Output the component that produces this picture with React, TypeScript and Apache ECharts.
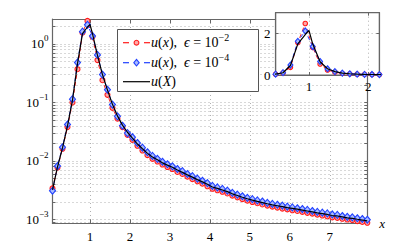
import React, { useEffect, useRef } from 'react';
import * as echarts from 'echarts';

// sample positions of the markers
const xGrid = [
  0.0625, 0.1875, 0.3125, 0.4375, 0.5625, 0.6875, 0.8125, 0.9375,
  1.0625, 1.1875, 1.3125, 1.4375, 1.5625, 1.6875, 1.8125, 1.9375,
  2.0625, 2.1875, 2.3125, 2.4375, 2.5625, 2.6875, 2.8125, 2.9375,
  3.0625, 3.1875, 3.3125, 3.4375, 3.5625, 3.6875, 3.8125, 3.9375,
  4.0625, 4.1875, 4.3125, 4.4375, 4.5625, 4.6875, 4.8125, 4.9375,
  5.0625, 5.1875, 5.3125, 5.4375, 5.5625, 5.6875, 5.8125, 5.9375,
  6.0625, 6.1875, 6.3125, 6.4375, 6.5625, 6.6875, 6.8125, 6.9375,
  7.0625, 7.1875, 7.3125, 7.4375, 7.5625, 7.6875, 7.8125, 7.9375,
];

// u(x), eps = 1e-2  (red circles)
const uEps2 = [
  0.0034, 0.0077, 0.0162, 0.038, 0.10, 0.37, 1.56, 2.48,
  1.33, 0.53, 0.24, 0.135, 0.081, 0.053, 0.038, 0.028,
  0.0230, 0.0182, 0.0151, 0.0126, 0.0109, 0.0098, 0.0087, 0.0079,
  0.0073, 0.0065, 0.0060, 0.0054, 0.0049, 0.0045, 0.0041, 0.0037,
  0.00335, 0.00316, 0.00298, 0.00279, 0.00256, 0.00239, 0.00223, 0.0021,
  0.00199, 0.0019, 0.00181, 0.00173, 0.00166, 0.0016, 0.00154, 0.00149,
  0.00144, 0.0014, 0.00135, 0.0013, 0.00126, 0.00121, 0.00117, 0.00113,
  0.00109, 0.00107, 0.00103, 0.001, 0.00098, 0.00094, 0.00091, 0.00088,
];

// u(x), eps = 1e-4  (blue diamonds)
const uEps4 = [
  0.0031, 0.0082, 0.0172, 0.042, 0.114, 0.48, 1.62, 2.12,
  1.37, 0.65, 0.30, 0.165, 0.092, 0.058, 0.040, 0.030,
  0.0255, 0.0203, 0.0169, 0.0141, 0.0122, 0.0109, 0.0097, 0.0088,
  0.0081, 0.0073, 0.0067, 0.0060, 0.0055, 0.0050, 0.0046, 0.0042,
  0.00375, 0.00354, 0.00333, 0.00312, 0.00286, 0.00267, 0.0025, 0.00235,
  0.00223, 0.00212, 0.00203, 0.00193, 0.00185, 0.00179, 0.00173, 0.00166,
  0.00161, 0.00156, 0.00151, 0.00146, 0.0014, 0.00135, 0.00131, 0.00127,
  0.00122, 0.0012, 0.00115, 0.00111, 0.00109, 0.00105, 0.00102, 0.00099,
];

// u(X)  (black solid line)
const uLimit = [
  0.0032, 0.0079, 0.0167, 0.040, 0.11, 0.46, 1.5, 1.95,
  1.5, 0.64, 0.30, 0.163, 0.093, 0.059, 0.041, 0.031,
  0.0245, 0.0195, 0.0162, 0.0135, 0.0117, 0.0105, 0.0093, 0.0085,
  0.0078, 0.0070, 0.0064, 0.0058, 0.0053, 0.0048, 0.0044, 0.0040,
  0.0036, 0.0034, 0.0032, 0.0030, 0.00275, 0.00257, 0.0024, 0.00226,
  0.00214, 0.00204, 0.00195, 0.00186, 0.00178, 0.00172, 0.00166, 0.0016,
  0.00155, 0.0015, 0.00145, 0.0014, 0.00135, 0.0013, 0.00126, 0.00122,
  0.00117, 0.00115, 0.00111, 0.00107, 0.00105, 0.00101, 0.00098, 0.00095,
];
const limitPeakX = 1.0;
const limitPeakU = 2.15;

const xTickValues = [1, 2, 3, 4, 5, 6, 7];
const yLabelValues = [0.001, 0.01, 0.1, 1];
const yTickValues = [
  0.0009,
  0.001, 0.002, 0.003, 0.004, 0.005, 0.006, 0.007, 0.008, 0.009,
  0.01, 0.02, 0.03, 0.04, 0.05, 0.06, 0.07, 0.08, 0.09,
  0.1, 0.2, 0.3, 0.4, 0.5, 0.6, 0.7, 0.8, 0.9,
  1, 2,
];
const insetXTicks = [1, 2];
const insetYTicks = [0, 2];

const legendExponents = ['−2', '−4'];

const SERIF = '"Liberation Serif", "DejaVu Serif", "Times New Roman", serif';
const RED = '#ff1a1a';
const BLUE = '#2040ff';
const AX = '#666666';
const GRID = '#b0b0b0';

const pair = (ys: number[]) => xGrid.map((x, i) => [x, ys[i]]);

export default function App() {
  const ref = useRef<HTMLDivElement>(null);

  useEffect(() => {
    if (!ref.current) return;
    const chart = echarts.init(ref.current, null, { renderer: 'svg' });

    const limitData = [
      ...pair(uLimit).filter((p) => p[0] < limitPeakX),
      [limitPeakX, limitPeakU],
      ...pair(uLimit).filter((p) => p[0] > limitPeakX),
    ];

    const supRich = {
      b: { fontFamily: SERIF, fontSize: 13, lineHeight: 20, color: '#000' },
      s: { fontFamily: SERIF, fontSize: 9, lineHeight: 10, verticalAlign: 'top', color: '#000' },
    };

    const dotted = { color: GRID, type: [1, 3], width: 1 };

    const mkSeries = (xi: number, yi: number, small: boolean, z: number) => [
      {
        type: 'line', name: 'u(x), eps=1e-2', xAxisIndex: xi, yAxisIndex: yi,
        data: pair(uEps2), symbol: 'circle', symbolSize: small ? 4.5 : 5,
        lineStyle: { color: RED, width: 1, type: [4, 3] },
        itemStyle: { color: '#ffa8a8', borderColor: RED, borderWidth: 1.1 },
        z, silent: true,
      },
      {
        type: 'line', name: 'u(x), eps=1e-4', xAxisIndex: xi, yAxisIndex: yi,
        data: pair(uEps4), symbol: 'diamond', symbolSize: small ? [5, 6] : [6, 7],
        lineStyle: { color: BLUE, width: 1, type: [4, 3] },
        itemStyle: { color: '#a8baff', borderColor: BLUE, borderWidth: 1.1 },
        z: z + 1, silent: true,
      },
      {
        type: 'line', name: 'u(X)', xAxisIndex: xi, yAxisIndex: yi,
        data: limitData, symbol: 'none', showSymbol: false,
        lineStyle: { color: '#000', width: 1.2 },
        z: z + 2, silent: true,
      },
    ];

    const legendRows = [42.7, 62.7, 81.7];
    const legendRich = {
      i: { fontFamily: SERIF, fontStyle: 'italic', fontSize: 14, lineHeight: 20, color: '#000' },
      r: { fontFamily: SERIF, fontSize: 14, lineHeight: 20, color: '#000' },
      s: { fontFamily: SERIF, fontSize: 10, lineHeight: 10, verticalAlign: 'top', color: '#000' },
    };

    const legendGraphics: any[] = [
      {
        type: 'rect', z: 100,
        shape: { x: 117.5, y: 29.5, width: 141, height: 62 },
        style: { fill: '#fff', stroke: '#555', lineWidth: 1 },
      },
      // row 1: red
      { type: 'line', z: 101, shape: { x1: 123, y1: legendRows[0], x2: 129, y2: legendRows[0] }, style: { stroke: RED, lineWidth: 1.2 } },
      { type: 'line', z: 101, shape: { x1: 144, y1: legendRows[0], x2: 150, y2: legendRows[0] }, style: { stroke: RED, lineWidth: 1.2 } },
      { type: 'circle', z: 102, shape: { cx: 136.5, cy: legendRows[0], r: 2.4 }, style: { fill: '#ffa8a8', stroke: RED, lineWidth: 1.1 } },
      // row 2: blue
      { type: 'line', z: 101, shape: { x1: 123, y1: legendRows[1], x2: 129, y2: legendRows[1] }, style: { stroke: BLUE, lineWidth: 1.2 } },
      { type: 'line', z: 101, shape: { x1: 144, y1: legendRows[1], x2: 150, y2: legendRows[1] }, style: { stroke: BLUE, lineWidth: 1.2 } },
      {
        type: 'polygon', z: 102,
        shape: { points: [[136.5, legendRows[1] - 3.3], [139.2, legendRows[1]], [136.5, legendRows[1] + 3.3], [133.8, legendRows[1]]] },
        style: { fill: '#a8baff', stroke: BLUE, lineWidth: 1.1 },
      },
      // row 3: black
      { type: 'line', z: 101, shape: { x1: 123, y1: legendRows[2], x2: 150, y2: legendRows[2] }, style: { stroke: '#000', lineWidth: 1.2 } },
    ];
    legendExponents.forEach((e, k) => {
      legendGraphics.push({
        type: 'text', z: 103, x: 151, y: legendRows[k],
        style: {
          text: `{i|u}{r|(}{i|x}{r|),  }{i|ϵ}{r| = 10}{s|${e}}`,
          rich: legendRich, verticalAlign: 'middle', align: 'left',
        },
      });
    });
    legendGraphics.push({
      type: 'text', z: 103, x: 151, y: legendRows[2],
      style: { text: '{i|u}{r|(}{i|X}{r|)}', rich: legendRich, verticalAlign: 'middle', align: 'left' },
    });

    const logFmt = (v: number) => {
      const e = Math.round(Math.log10(v));
      return `{b|10}{s|${e < 0 ? '−' + -e : e}}`;
    };

    chart.setOption({
      animation: false,
      backgroundColor: '#fff',
      grid: [
        { left: 52.5, top: 19, right: 39.7, bottom: 28.5, show: false },
        {
          left: 275.6, top: 12.7, width: 103.8, height: 62.3, show: true,
          backgroundColor: '#fff', borderColor: AX, borderWidth: 1.2, z: 10,
        },
      ],
      xAxis: [
        {
          gridIndex: 0, type: 'value', min: 0.0625, max: 7.9375, position: 'bottom',
          axisLine: { show: true, onZero: false, lineStyle: { color: AX, width: 1.2 } },
          axisTick: { show: true, inside: true, length: 4, customValues: xTickValues, lineStyle: { color: AX } },
          axisLabel: { customValues: xTickValues, margin: 6, fontFamily: SERIF, fontSize: 13, color: '#000' },
          splitLine: { show: true, lineStyle: dotted },
          name: 'x', nameLocation: 'end', nameGap: 12,
          nameTextStyle: { fontFamily: SERIF, fontStyle: 'italic', fontSize: 13, color: '#000', padding: [0, 0, 6, 0] },
        },
        {
          gridIndex: 0, type: 'value', min: 0.0625, max: 7.9375, position: 'top',
          axisLine: { show: true, onZero: false, lineStyle: { color: AX, width: 1.2 } },
          axisTick: { show: true, inside: true, length: 4, customValues: xTickValues, lineStyle: { color: AX } },
          axisLabel: { show: false },
          splitLine: { show: false },
        },
        {
          gridIndex: 1, type: 'value', min: 0.4375, max: 2.1875, position: 'bottom', z: 11,
          axisLine: { show: true, onZero: false, lineStyle: { color: AX, width: 1.2 } },
          axisTick: { show: true, inside: true, length: 3, customValues: insetXTicks, lineStyle: { color: AX } },
          axisLabel: { customValues: insetXTicks, margin: 5, fontFamily: SERIF, fontSize: 13, color: '#000' },
          splitLine: { show: true, lineStyle: dotted },
        },
        {
          gridIndex: 1, type: 'value', min: 0.4375, max: 2.1875, position: 'top', z: 11,
          axisLine: { show: true, onZero: false, lineStyle: { color: AX, width: 1.2 } },
          axisTick: { show: true, inside: true, length: 3, customValues: insetXTicks, lineStyle: { color: AX } },
          axisLabel: { show: false },
          splitLine: { show: false },
        },
      ],
      yAxis: [
        {
          gridIndex: 0, type: 'log', logBase: 10, min: 0.000855, max: 2.67, position: 'left',
          axisLine: { show: true, lineStyle: { color: AX, width: 1.2 } },
          axisTick: { show: true, inside: true, length: 3, customValues: yTickValues, lineStyle: { color: AX } },
          axisLabel: { customValues: yLabelValues, margin: 4, formatter: logFmt, rich: supRich },
          splitLine: { show: true, lineStyle: dotted },
        },
        {
          gridIndex: 0, type: 'log', logBase: 10, min: 0.000855, max: 2.67, position: 'right',
          axisLine: { show: true, lineStyle: { color: AX, width: 1.2 } },
          axisTick: { show: true, inside: true, length: 3, customValues: yTickValues, lineStyle: { color: AX } },
          axisLabel: { show: false },
          splitLine: { show: false },
        },
        {
          gridIndex: 1, type: 'value', min: 0, max: 3, position: 'left', z: 11,
          axisLine: { show: true, onZero: false, lineStyle: { color: AX, width: 1.2 } },
          axisTick: { show: true, inside: true, length: 3, customValues: insetYTicks, lineStyle: { color: AX } },
          axisLabel: { customValues: insetYTicks, margin: 5, fontFamily: SERIF, fontSize: 13, color: '#000' },
          splitLine: { show: true, lineStyle: dotted },
        },
        {
          gridIndex: 1, type: 'value', min: 0, max: 3, position: 'right', z: 11,
          axisLine: { show: true, onZero: false, lineStyle: { color: AX, width: 1.2 } },
          axisTick: { show: true, inside: true, length: 3, customValues: insetYTicks, lineStyle: { color: AX } },
          axisLabel: { show: false },
          splitLine: { show: false },
        },
      ],
      series: [...mkSeries(0, 0, false, 2), ...mkSeries(2, 2, true, 12)],
      graphic: legendGraphics,
    });

    return () => chart.dispose();
  }, []);

  return <div ref={ref} style={{ position: 'fixed', left: 0, top: 0, width: 407, height: 252 }} />;
}
